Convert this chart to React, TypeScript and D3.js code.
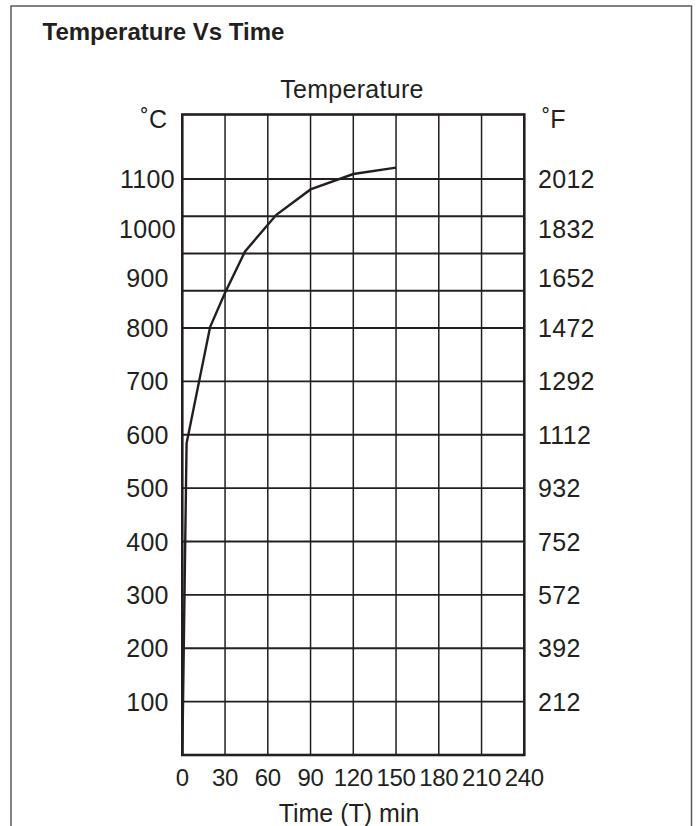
import React, { useRef, useEffect } from "react";
import * as d3 from "d3";

// chart values
const timeTicks = [0, 30, 60, 90, 120, 150, 180, 210, 240];
const celsiusLabels = [100, 200, 300, 400, 500, 600, 700, 800, 900, 1000, 1100];
const fahrenheitLabels = ["212", "392", "572", "752", "932", "1112", "1292", "1472", "1652", "1832", "2012"];
// horizontal rules of the printed grid (spacing gets tighter above 800 °C)
const gridCelsius = [100, 200, 300, 400, 500, 600, 700, 800, 875, 950, 1025, 1100];
const curveTime = [0, 3, 19.5, 30, 44, 66, 90, 120, 150];
const curveTemp = [0, 584, 802, 871, 954, 1028, 1079, 1110, 1123];

const WIDTH = 697;
const HEIGHT = 826;
const FONT = "'Liberation Sans', Arial, Helvetica, sans-serif";
const INK = "#231f20";

const App = () => {
  const svgRef = useRef<SVGSVGElement | null>(null);

  useEffect(() => {
    const svg = d3.select(svgRef.current);
    svg.selectAll("*").remove();

    const x = d3.scaleLinear().domain([0, 240]).range([182.3, 524.3]);
    // the original drawing compresses the scale above 800 °C
    const y = d3.scaleLinear().domain([0, 800, 1100, 1230]).range([755, 328, 179, 114.5]);

    // outer frame (open at the bottom)
    svg.append("path")
      .attr("d", `M11,${HEIGHT} V6 H691.5 V${HEIGHT}`)
      .attr("fill", "none")
      .attr("stroke", "#5a5a5a")
      .attr("stroke-width", 1.5);

    svg.append("text")
      .attr("x", 42.5)
      .attr("y", 39.5)
      .attr("font-family", FONT)
      .attr("font-size", 24)
      .attr("font-weight", "bold")
      .attr("fill", INK)
      .text("Temperature Vs Time");

    const g = svg.append("g");

    // vertical grid lines
    g.selectAll(".vgrid")
      .data(timeTicks.slice(1, -1))
      .enter()
      .append("line")
      .attr("class", "vgrid")
      .attr("x1", d => x(d))
      .attr("x2", d => x(d))
      .attr("y1", y(1230))
      .attr("y2", y(0))
      .attr("stroke", INK)
      .attr("stroke-width", 1.5);

    // horizontal grid lines
    g.selectAll(".hgrid")
      .data(gridCelsius)
      .enter()
      .append("line")
      .attr("class", "hgrid")
      .attr("x1", x(0))
      .attr("x2", x(240))
      .attr("y1", d => y(d))
      .attr("y2", d => y(d))
      .attr("stroke", INK)
      .attr("stroke-width", 1.8);

    // plot border
    g.append("rect")
      .attr("x", x(0))
      .attr("y", y(1230))
      .attr("width", x(240) - x(0))
      .attr("height", y(0) - y(1230))
      .attr("fill", "none")
      .attr("stroke", INK)
      .attr("stroke-width", 2.6);

    // curve
    const line = d3.line<number>()
      .x((d, i) => x(curveTime[i]))
      .y(d => y(d));

    g.append("path")
      .datum(curveTemp)
      .attr("d", line)
      .attr("fill", "none")
      .attr("stroke", INK)
      .attr("stroke-width", 2.4)
      .attr("stroke-linejoin", "miter");

    const text = (sel: any) =>
      sel.attr("font-family", FONT).attr("font-size", 25).attr("fill", INK);

    // left °C labels
    g.selectAll(".clabel")
      .data(celsiusLabels)
      .enter()
      .append("text")
      .attr("class", "clabel")
      .call(text)
      .attr("letter-spacing", 0.3)
      .attr("x", 147.5)
      .attr("y", d => y(d))
      .attr("dy", "0.36em")
      .attr("text-anchor", "middle")
      .text(d => d);

    // right °F labels
    g.selectAll(".flabel")
      .data(fahrenheitLabels)
      .enter()
      .append("text")
      .attr("class", "flabel")
      .call(text)
      .attr("letter-spacing", 0.3)
      .attr("x", 538)
      .attr("y", (d, i) => y(celsiusLabels[i]))
      .attr("dy", "0.36em")
      .attr("text-anchor", "start")
      .text(d => d);

    // bottom time labels
    g.selectAll(".tlabel")
      .data(timeTicks)
      .enter()
      .append("text")
      .attr("class", "tlabel")
      .call(text)
      .attr("font-size", 24)
      .attr("letter-spacing", -0.3)
      .attr("x", d => x(d))
      .attr("y", 786)
      .attr("text-anchor", "middle")
      .text(d => d);

    // unit / axis titles
    g.append("text").call(text)
      .attr("x", 167).attr("y", 127.5)
      .attr("text-anchor", "end")
      .text("˚C");

    g.append("text").call(text)
      .attr("x", 542).attr("y", 127.5)
      .attr("text-anchor", "start")
      .text("˚F");

    g.append("text").call(text)
      .attr("letter-spacing", 0.3)
      .attr("x", 352).attr("y", 97.5)
      .attr("text-anchor", "middle")
      .text("Temperature");

    g.append("text").call(text)
      .attr("x", 349).attr("y", 821.5)
      .attr("text-anchor", "middle")
      .text("Time (T) min");
  }, []);

  return (
    <div style={{ position: "absolute", left: 0, top: 0, width: WIDTH, height: HEIGHT, background: "#fff" }}>
      <svg ref={svgRef} width={WIDTH} height={HEIGHT}></svg>
    </div>
  );
};

export default App;
